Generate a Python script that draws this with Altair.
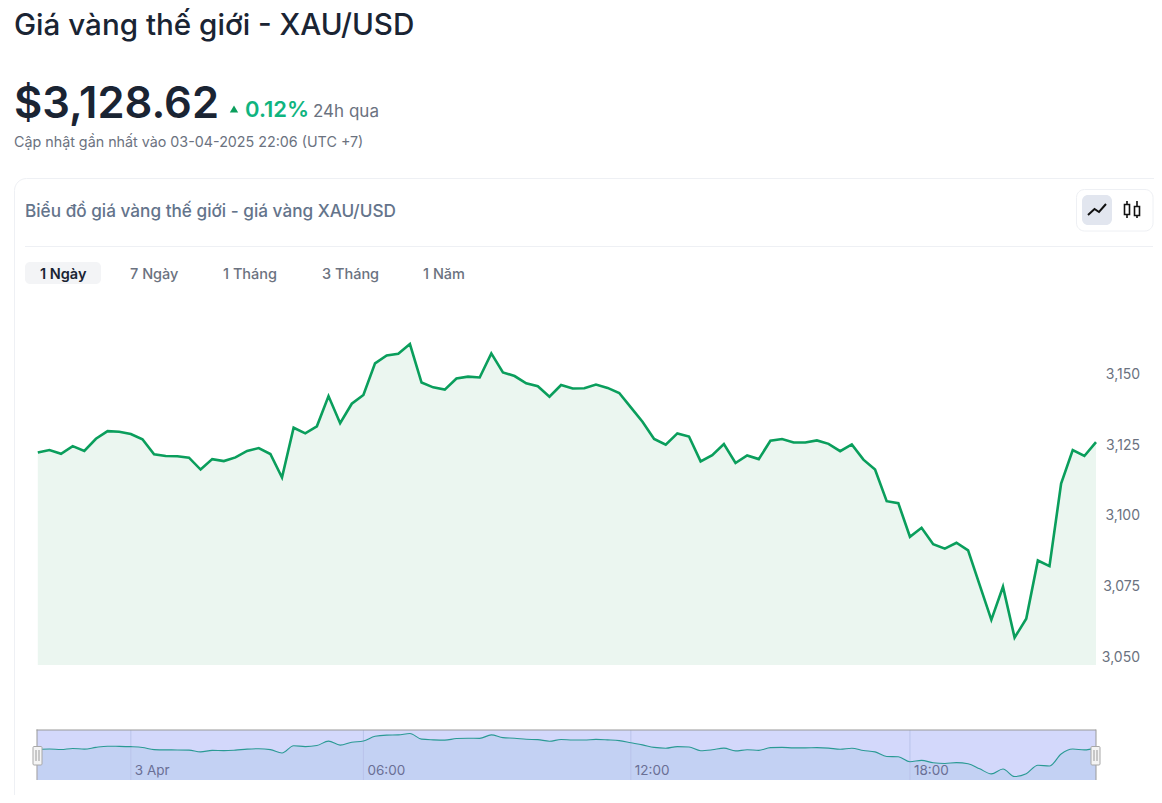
import altair as alt
import pandas as pd

prices = [3122.0,3122.9,3121.6,3124.3,3122.6,3126.9,3129.6,3129.4,3128.6,3126.7,
          3121.4,3120.8,3120.7,3120.2,3116.0,3119.7,3119.0,3120.3,3122.6,3123.6,
          3121.5,3113.2,3130.8,3128.8,3131.3,3142.0,3132.4,3139.3,3142.4,3153.6,
          3156.4,3157.0,3160.4,3146.8,3145.1,3144.3,3148.2,3148.9,3148.6,3157.1,
          3150.4,3149.1,3146.5,3145.5,3141.8,3145.9,3144.7,3144.8,3146.1,3144.9,
          3143.1,3138.0,3132.9,3126.8,3124.8,3128.8,3127.7,3118.9,3121.1,3125.0,
          3118.3,3121.0,3119.7,3126.2,3126.8,3125.6,3125.6,3126.3,3125.1,3122.5,
          3124.9,3119.5,3116.0,3104.8,3104.1,3092.2,3095.4,3089.6,3088.0,3090.1,
          3087.4,3075.1,3062.8,3074.5,3056.5,3063.2,3083.8,3081.8,3111.0,3122.9,
          3120.8,3125.7]
indices = list(range(len(prices)))
y_ticks = [3050, 3075, 3100, 3125, 3150]
y_tick_labels = ["3,050", "3,075", "3,100", "3,125", "3,150"]
nav_tick_index = [8, 28, 51, 75]
nav_tick_label = ["3 Apr", "06:00", "12:00", "18:00"]
tab_labels = ["1 Ngày", "7 Ngày", "1 Tháng", "3 Tháng", "1 Năm"]
main_floor = 3046.8
nav_floor = 3048.0

FONT = "Inter"
DARK = "#1a2433"
GRAY = "#6b7280"
GREEN = "#0a9e5c"

df = pd.DataFrame({"i": indices, "p": prices})
df["main_base"] = main_floor
df["nav_base"] = nav_floor
ticks_df = pd.DataFrame({"i": nav_tick_index, "label": nav_tick_label})
yticks_df = pd.DataFrame({"v": y_ticks, "label": y_tick_labels})
one = alt.Data(values=[{"a": 1}])

O = 8  # page margin
xs = alt.X("i:Q", axis=None, scale=alt.Scale(domain=[0, 91], range=[37.8 - O, 1096 - O], nice=False, zero=False))
main_scale = alt.Scale(domain=[3050, 3150], range=[656 - O, 373.5 - O], nice=False, zero=False)
nav_scale = alt.Scale(domain=[3056.5, 3160.4], range=[776.5 - O, 733.5 - O], nice=False, zero=False)


def box(x1, y1, x2, y2, fill="transparent", stroke=None, radius=0, sw=1):
    kw = dict(fill=fill, cornerRadius=radius)
    if stroke:
        kw.update(stroke=stroke, strokeWidth=sw)
    return alt.Chart(one).mark_rect(**kw).encode(
        x=alt.value(x1 - O), x2=alt.value(x2 - O), y=alt.value(y1 - O), y2=alt.value(y2 - O))


def label(txt, x, y, size, color, weight=400, align="left"):
    return alt.Chart(one).mark_text(text=txt, font=FONT, fontSize=size, color=color, fontWeight=weight,
                                    align=align, baseline="middle").encode(
        x=alt.value(x - O), y=alt.value(y - O))


def icon(path, x, y, stroke, sw=2, fill="transparent"):
    return alt.Chart(one).mark_point(shape=path, size=400, stroke=stroke, strokeWidth=sw, fill=fill,
                                     opacity=1, filled=False).encode(
        x=alt.value(x - O), y=alt.value(y - O))


tab_x = [40, 130, 223, 322, 423]

layers = [
    box(14.5, 178.5, 1170, 820, fill="#ffffff", stroke="#eef0f4", radius=12),
    box(25, 246, 1153, 247, fill="#eef0f4"),
    box(1076.5, 189.5, 1153, 231, fill="#ffffff", stroke="#eef0f4", radius=8),
    box(1082, 195, 1112, 225, fill="#e2e6ef", radius=6),
    box(25, 262, 101, 284, fill="#f3f4f6", radius=5),
    label("Giá vàng thế giới - XAU/USD", 14, 25.5, 29.6, DARK, 500),
    label("$3,128.62", 14, 105, 43.5, DARK, 600),
    label("0.12%", 245, 110, 22, "#10b47f", 600),
    label("24h qua", 313, 112, 17, GRAY),
    label("Cập nhật gần nhất vào 03-04-2025 22:06 (UTC +7)", 14, 143, 14.3, GRAY),
    label("Biểu đồ giá vàng thế giới - giá vàng XAU/USD", 25, 212, 17.2, "#64748b", 500),
    alt.Chart(one).mark_point(shape="triangle-up", size=70, filled=True, fill="#0a9e5c", opacity=1).encode(
        x=alt.value(234 - O), y=alt.value(109 - O)),
    icon("M-0.9,0.5 L-0.25,-0.1 L0.2,0.2 L0.9,-0.6", 1097, 210, "#111111", 2),
    icon("M-0.6,-0.9 L-0.6,-0.55 M-0.6,0.45 L-0.6,0.8 M-0.85,-0.55 H-0.35 V0.45 H-0.85 Z "
         "M0.4,-0.9 L0.4,-0.35 M0.4,0.55 L0.4,0.8 M0.15,-0.35 H0.65 V0.55 H0.15 Z", 1133, 210, "#111111", 1.6),
]
for j, t in enumerate(tab_labels):
    layers.append(label(t, tab_x[j], 275, 14.5, DARK if j == 0 else GRAY, 600 if j == 0 else 500))

# main chart
layers.append(alt.Chart(df).mark_area(color="#ebf6f0", opacity=1, line=False).encode(
    x=xs, y=alt.Y("p:Q", scale=main_scale, axis=None), y2="main_base:Q"))
layers.append(alt.Chart(df).mark_line(color=GREEN, strokeWidth=2.6, strokeJoin="miter").encode(
    x=xs, y=alt.Y("p:Q", scale=main_scale, axis=None)))
layers.append(alt.Chart(yticks_df).mark_text(font=FONT, fontSize=14, color=GRAY, align="right",
                                             baseline="middle", dy=1.5).encode(
    x=alt.value(1140 - O), y=alt.Y("v:Q", scale=main_scale, axis=None), text="label:N"))

# navigator
layers.append(box(37, 730, 1096, 780, fill="#d3d8fb"))
layers.append(alt.Chart(df).mark_area(color="#c3d1f3", opacity=1, interpolate="monotone").encode(
    x=xs, y=alt.Y("p:Q", scale=nav_scale, axis=None), y2="nav_base:Q"))
layers.append(alt.Chart(ticks_df).mark_rule(color="#b9c3ea", strokeWidth=1).encode(
    x=xs, y=alt.value(730 - O), y2=alt.value(780 - O)))
layers.append(alt.Chart(df).mark_line(color="#2a9a94", strokeWidth=1.1, interpolate="monotone").encode(
    x=xs, y=alt.Y("p:Q", scale=nav_scale, axis=None)))
layers.append(alt.Chart(ticks_df).mark_text(font=FONT, fontSize=13.5, color="#6a6f95", align="left", dx=4,
                                            baseline="middle").encode(
    x=xs, y=alt.value(771 - O), text="label:N"))
layers.append(box(36.5, 729.5, 1096, 730.5, fill="#999999"))
layers.append(box(36.5, 729.5, 37.5, 780, fill="#999999"))
layers.append(box(1095.5, 729.5, 1096.5, 780, fill="#999999"))
for cx in (37.5, 1095.5):
    layers.append(box(cx - 4.5, 746.5, cx + 4.5, 765, fill="#f4f4f4", stroke="#a8a8a8", radius=1))
    layers.append(box(cx - 2, 750, cx - 1, 761, fill="#999999"))
    layers.append(box(cx + 1, 750, cx + 2, 761, fill="#999999"))

chart = alt.layer(*layers).resolve_scale(y="independent").properties(
    width=1146, height=787, padding=0, autosize=alt.AutoSizeParams(type="none"), background="#ffffff"
).configure_view(stroke=None)

chart.save("out.html", embed_options={"renderer": "svg", "actions": False})
